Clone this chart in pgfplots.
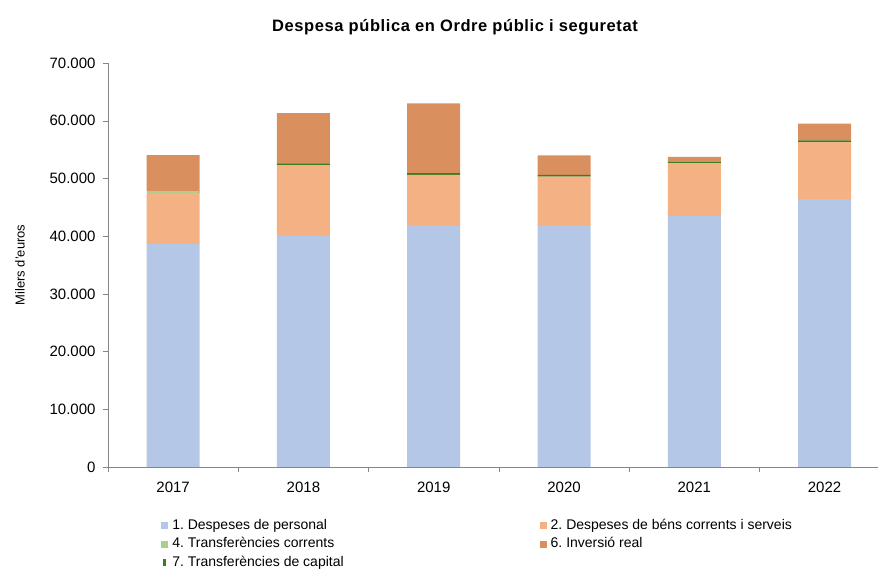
\documentclass[border=0pt]{standalone}
\usepackage{fontspec}
\setmainfont{Liberation Sans}
\usepackage{pgfplots}
\usepackage{pgfplotstable}
\pgfplotsset{compat=1.18}
\definecolor{cpers}{HTML}{B4C7E7}
\definecolor{cbens}{HTML}{F4B183}
\definecolor{ccorr}{HTML}{A9D18E}
\definecolor{ccap}{HTML}{3A7D22}
\definecolor{cinv}{HTML}{D98F5E}
\definecolor{cax}{HTML}{868686}
\pgfplotstableread{
x pers bens corr cap inv
0 38600 8900 350 0 6200
1 40000 12300 0 300 8700
2 41800 8800 0 300 12100
3 41800 8500 0 300 3400
4 43500 9100 0 300 830
5 46400 9900 0 300 2900
}\data
\frenchspacing
\begin{document}
\begin{tikzpicture}
\begin{axis}[name=ax, scale only axis, width=770pt, height=404pt,
  ybar stacked, bar width=53pt,
  xmin=-0.5, xmax=5.41, ymin=0, ymax=70000,
  axis x line*=bottom, axis y line*=left,
  axis line style={-, draw=cax},
  tick align=outside,
  major tick length=5pt, minor tick length=5pt,
  xtick={0,...,5}, xticklabels={2017,2018,2019,2020,2021,2022},
  minor xtick={-0.5,0.5,1.5,2.5,3.5,4.5},
  major x tick style={draw=none},
  minor x tick style={draw=cax},
  ytick={0,10000,...,70000},
  ytick style={draw=cax},
  scaled y ticks=false,
  /pgf/number format/fixed,
  /pgf/number format/1000 sep={.},
  /pgf/number format/assume math mode=true,
  tick label style={font=\fontsize{15}{17}\selectfont},
  xticklabel style={yshift=-6.5pt},
  yticklabel style={xshift=-4pt},
  legend style={at={(0.065,-0.119)}, anchor=north west, draw=none, fill=none,
    font=\fontsize{14}{16}\selectfont, row sep=1.4pt,
    nodes={inner ysep=2pt, text height=10pt, text depth=3pt},
    /tikz/every odd column/.append style={column sep=2pt},
    /tikz/column 2/.style={column sep=194pt}},
  legend columns=2, legend cell align=left,
  legend image code/.code={\fill[#1, draw=none] (0pt,-3.5pt) rectangle (7pt,3.5pt);},
]
\addplot[fill=cpers, draw=none, forget plot] table[x=x, y=pers] {\data};
\addplot[fill=cbens, draw=none, forget plot] table[x=x, y=bens] {\data};
\addplot[fill=ccorr, draw=none, forget plot] table[x=x, y=corr] {\data};
\addplot[fill=ccap, draw=none, forget plot] table[x=x, y=cap] {\data};
\addplot[fill=cinv, draw=none, forget plot] table[x=x, y=inv] {\data};
\addlegendimage{fill=cpers}
\addlegendentry{1. Despeses de personal}
\addlegendimage{fill=cbens}
\addlegendentry{2. Despeses de béns corrents i serveis}
\addlegendimage{fill=ccorr}
\addlegendentry{4. Transferències corrents}
\addlegendimage{fill=cinv}
\addlegendentry{6. Inversió real}
\addlegendimage{legend image code/.code={\fill[ccap, draw=none] (2pt,-3.5pt) rectangle (5pt,3.5pt);}}
\addlegendentry{7. Transferències de capital}
\end{axis}
\node[rotate=90, font=\fontsize{13}{15}\selectfont] at ([xshift=-88pt]ax.west) {Milers d'euros};
\node[font=\fontsize{16.5}{18}\bfseries\addfontfeatures{LetterSpace=3.5}\selectfont] at ([shift={(347pt,36pt)}]ax.north west) {Despesa pública en Ordre públic i seguretat};
\pgfresetboundingbox
\path[use as bounding box] ([shift={(-108pt,-102pt)}]ax.south west) rectangle ([shift={(0pt,63pt)}]ax.north east);
\end{tikzpicture}
\end{document}
